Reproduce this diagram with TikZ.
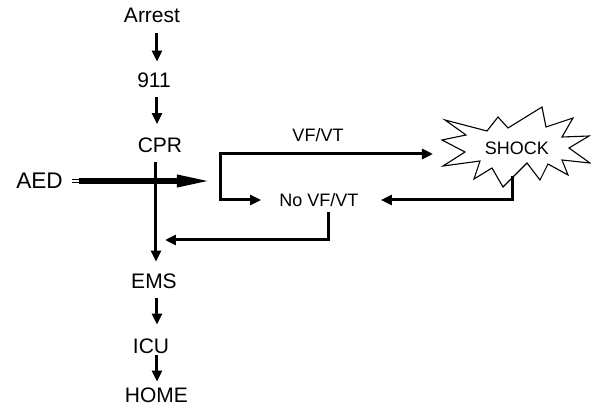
\documentclass[tikz,border=0pt]{standalone}
\usepackage{fontspec}
\setmainfont{Liberation Sans}
\usetikzlibrary{arrows.meta}
\tikzset{
  chain/.style={inner sep=0pt, text height=7.5pt, text depth=0pt, font=\fontsize{10.5}{12}\selectfont},
  branch/.style={inner sep=0pt, text height=6.45pt, text depth=0pt, font=\fontsize{9}{11}\selectfont},
  arr/.style={line width=1.5pt, -{Triangle[length=5.5pt,width=5pt]}},
  burst/.style={line width=0.55pt, draw=black, fill=white, line join=miter},
}
\begin{document}
\begin{tikzpicture}[x=0.5pt,y=-0.5pt]
\useasboundingbox (0,0) rectangle (591,412);
% chain nodes
\node[chain] (arrest) at (152,15.5) {Arrest};
\node[chain] (n911) at (154,80) {911};
\node[chain] (cpr) at (160,145) {CPR};
\node[chain] (ems) at (154,281.5) {EMS};
\node[chain] (icu) at (151,345.5) {ICU};
\node[chain] (home) at (156.5,395) {HOME};
\coordinate (col) at (157,0);
\coordinate (col2) at (156,0);
% chain arrows
\draw[arr, shorten <=5pt, shorten >=5.25pt] (arrest.south -| col) -- (n911.north -| col);
\draw[arr, shorten <=4.75pt, shorten >=6.5pt] (n911.south -| col) -- (cpr.north -| col);
\draw[arr, shorten <=4.75pt, shorten >=6pt] (cpr.south -| col2) -- (ems.north -| col2);
\draw[arr, shorten <=4.5pt, shorten >=6.5pt] (ems.south -| col) -- (icu.north -| col);
\draw[arr, shorten <=1pt, shorten >=2.75pt] (icu.south -| col) -- (home.north -| col);
% AED
\node[inner sep=0pt, text height=8pt, text depth=0pt, font=\fontsize{11.3}{13}\selectfont] (aed) at (39.5,181) {AED};
\coordinate (aedtip) at (213,181);
\draw[line width=0.6pt] ([xshift=4.25pt,yshift=0.9pt]aed.east) -- ++(4.5pt,0);
\draw[line width=0.6pt] ([xshift=4.25pt,yshift=-0.9pt]aed.east) -- ++(4.5pt,0);
\draw[line width=3pt, shorten <=8pt, -{Triangle[length=18pt,width=5.5pt]}] (aed.east) -- (aedtip);
% branch
\node[branch] (vf) at (318,135) {VF/VT};
\node[branch] (novf) at (319,200) {No VF/VT};
\coordinate (b1) at (221,154);
\coordinate (b2) at (221,200);
\coordinate (shockin) at (433,154);
\draw[arr, shorten >=9pt, line join=miter] (b1) -- (b2) -- (novf.west);
\draw[arr] (b1) -- (shockin);
\draw[line width=1.5pt, line cap=rect] (b1) -- ++(0,-0.1);
% starburst
\draw[burst] (442,140) -- (466,135) -- (445,120) -- (487,131) -- (498,117) -- (508,128)
  -- (542,107) -- (546,127) -- (573,118) -- (562,137) -- (589,136) -- (569,148)
  -- (590,163) -- (562,160) -- (568,175) -- (548,164) -- (540,180) -- (527,163)
  -- (503,187) -- (492,168) -- (474,179) -- (480,161) -- (443,166) -- (465,152) -- cycle;
\node[branch] (shock) at (517,148) {SHOCK};
\coordinate (shockout) at (513,176);
\draw[arr, shorten >=11pt, line join=miter] (shockout) |- (novf.east);
% no VF/VT back to main line
\coordinate (merge) at (156,240);
\draw[arr, shorten <=2.75pt, shorten >=4.5pt, line join=miter] ([xshift=5pt]novf.south) |- (merge);
\end{tikzpicture}
\end{document}
